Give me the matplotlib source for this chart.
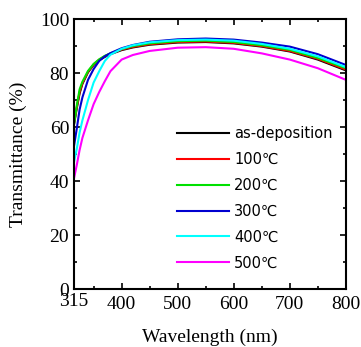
import matplotlib.pyplot as plt
from matplotlib.ticker import MultipleLocator
from matplotlib.transforms import ScaledTranslation

plt.rcParams.update({
    "font.family": "Liberation Serif",
    "font.size": 14,
    "xtick.direction": "in",
    "ytick.direction": "in",
    "xtick.top": True,
    "ytick.right": True,
})

# Wavelength grid (nm) and transmittance (%)
wavelength = [315, 320, 325, 330, 340, 350, 360, 370, 380, 400, 420, 450,
              500, 550, 600, 650, 700, 750, 800]
as_dep = [61, 67, 72.5, 76, 80.3, 83, 84.8, 86, 87, 88.5, 89.5, 90.5,
          91.3, 91.5, 91.0, 89.8, 88.0, 85.0, 81.0]
t100 = [61.5, 67.5, 73, 76.3, 80.5, 83.2, 85, 86.2, 87.2, 88.7, 89.7, 90.7,
        91.5, 91.7, 91.2, 90.0, 88.2, 85.3, 81.3]
t200 = [61, 68, 74, 76.8, 80.8, 83.4, 85.1, 86.4, 87.3, 88.9, 90.0, 91.0,
        91.8, 92.0, 91.5, 90.3, 88.6, 85.6, 81.8]
t300 = [53, 59.5, 66.5, 71, 77.5, 81.5, 84.5, 86.2, 87.4, 89.2, 90.4, 91.6,
        92.5, 92.8, 92.4, 91.3, 89.8, 87.0, 83.0]
t400 = [47, 52, 58, 62.5, 70, 76.5, 80.7, 84.5, 86.8, 89.0, 90.3, 91.4,
        92.2, 92.4, 92.0, 90.8, 89.0, 86.2, 82.2]
t500 = [41, 46, 51.5, 56, 62.5, 68.5, 73, 77, 80.7, 85.0, 86.7, 88.2,
        89.4, 89.6, 89.0, 87.3, 85.0, 81.8, 77.5]

series = [as_dep, t100, t200, t300, t400, t500]
labels = ["as-deposition", "100℃", "200℃", "300℃", "400℃", "500℃"]
colors = ["#000000", "#ff0000", "#00e000", "#0000d0", "#00ffff", "#ff00ff"]

xticks = [315, 400, 500, 600, 700, 800]

fig = plt.figure(figsize=(3.61, 3.47), dpi=100)
ax = fig.add_axes([0.205, 0.167, 0.753, 0.778])

for y, lab, c in zip(series, labels, colors):
    ax.plot(wavelength, y, color=c, linewidth=1.5, label=lab)

ax.set_xlim(315, 800)
ax.set_ylim(0, 100)
ax.set_xticks(xticks)
ax.xaxis.set_minor_locator(MultipleLocator(50))
ax.yaxis.set_major_locator(MultipleLocator(20))
ax.yaxis.set_minor_locator(MultipleLocator(10))
ax.tick_params(which="major", length=4, width=1.2)
ax.tick_params(which="minor", length=2.5, width=1.2)
ax.tick_params(axis="x", pad=5)
for s in ax.spines.values():
    s.set_linewidth(1.5)

# the "315" label sits a little higher than the others
lab0 = ax.xaxis.get_major_ticks()[0].label1
lab0.set_transform(lab0.get_transform() + ScaledTranslation(0, 2.5 / 72, fig.dpi_scale_trans))

ax.set_xlabel("Wavelength (nm)", labelpad=11)
ax.set_ylabel("Transmittance (%)", labelpad=9)

ax.legend(loc="lower right", frameon=False, prop={"family": "DejaVu Sans", "size": 10.5},
          handlelength=3.6, handletextpad=0.35, labelspacing=0.75,
          bbox_to_anchor=(1.0, 0.02))

fig.savefig("out.png", dpi=100)
